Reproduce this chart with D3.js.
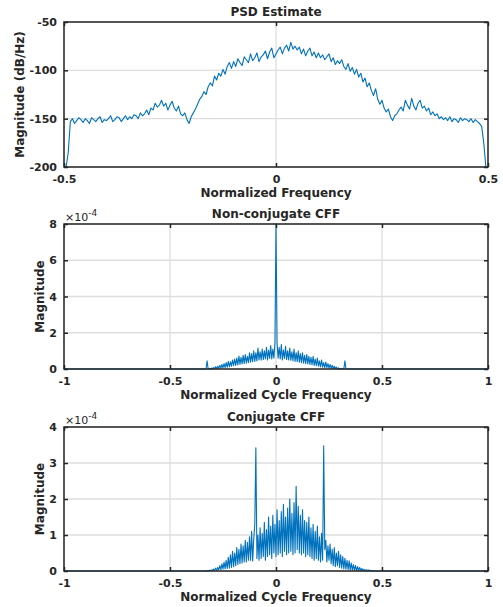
<!DOCTYPE html>
<html>
<head>
<meta charset="utf-8">
<script src="https://cdn.jsdelivr.net/npm/d3@7"></script>
<style>
  body { margin: 0; background: #fff; }
  text { font-family: "DejaVu Sans", sans-serif; fill: #262626; }
</style>
</head>
<body>
<svg id="chart" width="503" height="607"></svg>
<script>
// PSD estimate, dB/Hz, sampled every 0.005 from -0.5 to 0.5
var psdStart = -0.5, psdStep = 0.005;
var psdValues = [
  -200,-200,-185,-153,-150,-155,-152,-149,-151,-154,
  -150,-152,-155,-149,-151,-153,-150,-148,-154,-151,
  -152,-150,-147,-153,-151,-148,-149,-153,-150,-147,
  -151,-148,-150,-146,-147,-150,-144,-147,-145,-141,
  -146,-139,-141,-134,-138,-136,-131,-137,-134,-141,
  -136,-132,-139,-142,-137,-145,-147,-144,-151,-155,
  -148,-144,-140,-135,-130,-127,-122,-125,-117,-113,
  -116,-106,-110,-103,-106,-99,-104,-96,-92,-98,
  -91,-96,-88,-92,-95,-86,-89,-92,-83,-90,
  -87,-82,-91,-86,-84,-80,-88,-81,-77,-87,
  -83,-79,-76,-83,-77,-74,-80,-71,-78,-75,
  -79,-76,-83,-78,-85,-80,-77,-85,-81,-87,
  -82,-87,-84,-89,-86,-83,-91,-87,-94,-90,
  -93,-89,-96,-99,-93,-101,-97,-104,-99,-107,
  -103,-112,-108,-117,-113,-121,-126,-119,-130,-135,
  -131,-139,-143,-140,-148,-152,-147,-145,-141,-138,
  -142,-131,-136,-140,-129,-137,-141,-134,-131,-139,
  -137,-142,-139,-146,-143,-147,-145,-150,-148,-151,
  -149,-152,-148,-153,-150,-151,-154,-149,-152,-150,
  -151,-153,-150,-154,-151,-153,-155,-158,-175,-200,
  -200
];

// non-conjugate CFF, x1e-4, sampled every 0.005 from -0.34 to 0.34 (zero elsewhere)
var ncStart = -0.34, ncStep = 0.005;
var ncValues = [
  0,0,0,0.45,0,0.02,0,0.05,0.01,0.08,
  0.02,0.12,0.03,0.15,0.04,0.2,0.05,0.25,0.07,0.3,
  0.08,0.35,0.1,0.42,0.12,0.4,0.15,0.5,0.18,0.55,
  0.2,0.6,0.22,0.72,0.25,0.65,0.28,0.75,0.3,0.8,
  0.32,0.7,0.35,0.9,0.38,0.85,0.4,1.0,0.42,0.9,
  0.45,1.15,0.5,0.95,0.48,1.1,0.52,1.0,0.55,1.2,
  0.5,1.05,0.58,1.3,0.55,1.1,0.6,1.42,8.0,1.45,
  0.6,1.2,0.55,1.35,0.5,1.05,0.58,1.25,0.52,1.0,
  0.5,1.15,0.48,0.95,0.45,1.1,0.42,0.9,0.4,1.0,
  0.38,0.85,0.35,0.9,0.32,0.75,0.3,0.8,0.28,0.7,
  0.25,0.65,0.22,0.7,0.2,0.55,0.18,0.6,0.15,0.45,
  0.12,0.5,0.1,0.35,0.08,0.38,0.07,0.3,0.05,0.25,
  0.04,0.2,0.03,0.15,0.02,0.1,0.01,0.06,0,0.03,
  0,0.01,0,0.45,0,0,0
];

// conjugate CFF, x1e-4, sampled every 0.005 from -0.33 to 0.45 (zero elsewhere)
var cjStart = -0.33, cjStep = 0.005;
var cjValues = [
  0,0.01,0,0.02,0.01,0.03,0.01,0.05,0.02,0.08,
  0.02,0.1,0.03,0.15,0.04,0.2,0.05,0.25,0.06,0.3,
  0.07,0.38,0.08,0.45,0.1,0.55,0.12,0.5,0.15,0.65,
  0.18,0.6,0.2,0.75,0.22,0.7,0.25,0.85,0.25,0.8,
  0.3,0.95,0.3,1.1,0.28,0.9,1.3,3.42,0.35,1.0,
  0.3,1.2,0.35,1.05,0.4,1.35,0.3,1.15,0.4,1.5,
  0.45,1.25,0.35,1.55,0.5,1.3,0.4,1.7,0.45,1.4,
  0.5,1.65,0.4,1.85,0.55,1.5,0.45,1.75,0.5,2.0,
  0.55,1.6,0.45,1.9,0.5,2.35,0.6,1.8,0.5,1.55,
  0.45,1.7,0.5,1.4,0.4,1.35,0.45,1.5,0.4,1.2,
  0.35,1.3,0.3,1.1,0.35,1.25,0.3,0.95,0.25,1.05,
  0.3,3.48,0.6,0.85,0.25,0.7,0.3,0.75,0.2,0.6,
  0.15,0.65,0.12,0.5,0.15,0.55,0.1,0.45,0.08,0.4,
  0.06,0.35,0.05,0.3,0.04,0.28,0.03,0.22,0.02,0.18,
  0.02,0.15,0.01,0.12,0.01,0.1,0.01,0.07,0,0.05,
  0,0.04,0,0.03,0,0.02,0
];

var psdTicksX = [-0.5, 0, 0.5];
var psdTicksY = [-200, -150, -100, -50];
var cffTicksX = [-1, -0.5, 0, 0.5, 1];
var ncTicksY = [0, 2, 4, 6, 8];
var cjTicksY = [0, 1, 2, 3, 4];

var svg = d3.select("#chart");
var blue = "#0072BD";
var ink = "#262626";

function toPoints(start, step, vals, xmin, xmax){
  var pts = [];
  if(xmin !== null) pts.push([xmin, 0]);
  for(var i = 0; i < vals.length; i++){
    pts.push([start + i * step, vals[i]]);
  }
  if(xmax !== null) pts.push([xmax, 0]);
  return pts;
}

function fmt(d){
  return d3.format("")(d).replace("\u2212", "-");
}

function panel(opt){
  var x = d3.scaleLinear().domain(opt.xDomain).range([opt.left, opt.right]);
  var y = d3.scaleLinear().domain(opt.yDomain).range([opt.bottom, opt.top]);
  var g = svg.append("g");

  // grid
  g.selectAll(".gx").data(opt.ticksX).enter().append("line")
    .attr("x1", function(d){ return x(d); }).attr("x2", function(d){ return x(d); })
    .attr("y1", opt.top).attr("y2", opt.bottom)
    .attr("stroke", "#dedede").attr("stroke-width", 1.3);
  g.selectAll(".gy").data(opt.ticksY).enter().append("line")
    .attr("y1", function(d){ return y(d); }).attr("y2", function(d){ return y(d); })
    .attr("x1", opt.left).attr("x2", opt.right)
    .attr("stroke", "#dedede").attr("stroke-width", 1.3);

  // data
  var line = d3.line().x(function(d){ return x(d[0]); }).y(function(d){ return y(d[1]); });
  g.append("path").datum(opt.points)
    .attr("d", line).attr("fill", "none")
    .attr("stroke", blue).attr("stroke-width", 1.1).attr("stroke-linejoin", "round");

  // axes, ticks inside on all four sides; only bottom and left carry labels
  var ax = [
    [d3.axisBottom(x).tickValues(opt.ticksX).tickFormat(fmt), opt.bottom, "x"],
    [d3.axisTop(x).tickValues(opt.ticksX).tickFormat(""), opt.top, "x"],
    [d3.axisLeft(y).tickValues(opt.ticksY).tickFormat(fmt), opt.left, "y"],
    [d3.axisRight(y).tickValues(opt.ticksY).tickFormat(""), opt.right, "y"]
  ];
  ax.forEach(function(a){
    var axis = a[0].tickSizeInner(-4).tickSizeOuter(0).tickPadding(a[2] === "x" ? 8 : 7);
    var ag = g.append("g")
      .attr("transform", a[2] === "x" ? "translate(0," + a[1] + ")" : "translate(" + a[1] + ",0)")
      .call(axis);
    ag.select(".domain").remove();
    ag.selectAll("line").attr("stroke", ink).attr("stroke-width", 1.5);
    ag.selectAll("text")
      .style("font-family", "DejaVu Sans, sans-serif")
      .style("font-weight", "bold").style("font-size", "11px").attr("fill", ink);
  });

  g.append("rect")
    .attr("x", opt.left).attr("y", opt.top)
    .attr("width", opt.right - opt.left).attr("height", opt.bottom - opt.top)
    .attr("fill", "none").attr("stroke", ink).attr("stroke-width", 1.5);

  g.append("text").attr("x", (opt.left + opt.right) / 2).attr("y", opt.top - 6)
    .attr("text-anchor", "middle").style("font-weight", "bold").style("font-size", "12px")
    .text(opt.title);
  g.append("text").attr("x", (opt.left + opt.right) / 2).attr("y", opt.bottom + 30)
    .attr("text-anchor", "middle").style("font-weight", "bold").style("font-size", "12px")
    .text(opt.xLabel);
  g.append("text")
    .attr("transform", "translate(" + opt.yLabelX + "," + (opt.top + opt.bottom) / 2 + ") rotate(-90)")
    .attr("text-anchor", "middle").style("font-weight", "bold").style("font-size", "12px")
    .text(opt.yLabel);

  if(opt.exponent){
    var t = g.append("text").attr("x", opt.left + 1).attr("y", opt.top - 3)
      .style("font-size", "11px");
    t.append("tspan").text("\u00d710");
    t.append("tspan").attr("dy", -5).style("font-size", "9px").text(opt.exponent);
  }
}

panel({
  left: 64, right: 488, top: 22, bottom: 167,
  xDomain: [-0.5, 0.5], yDomain: [-200, -50],
  ticksX: psdTicksX, ticksY: psdTicksY,
  points: toPoints(psdStart, psdStep, psdValues, null, null),
  title: "PSD Estimate", xLabel: "Normalized Frequency", yLabel: "Magnitude (dB/Hz)",
  yLabelX: 24
});

panel({
  left: 64, right: 488, top: 224, bottom: 369,
  xDomain: [-1, 1], yDomain: [0, 8],
  ticksX: cffTicksX, ticksY: ncTicksY,
  points: toPoints(ncStart, ncStep, ncValues, -1, 1),
  title: "Non-conjugate CFF", xLabel: "Normalized Cycle Frequency", yLabel: "Magnitude",
  yLabelX: 44, exponent: "-4"
});

panel({
  left: 64, right: 488, top: 427, bottom: 571,
  xDomain: [-1, 1], yDomain: [0, 4],
  ticksX: cffTicksX, ticksY: cjTicksY,
  points: toPoints(cjStart, cjStep, cjValues, -1, 1),
  title: "Conjugate CFF", xLabel: "Normalized Cycle Frequency", yLabel: "Magnitude",
  yLabelX: 44, exponent: "-4"
});
</script>
</body>
</html>
